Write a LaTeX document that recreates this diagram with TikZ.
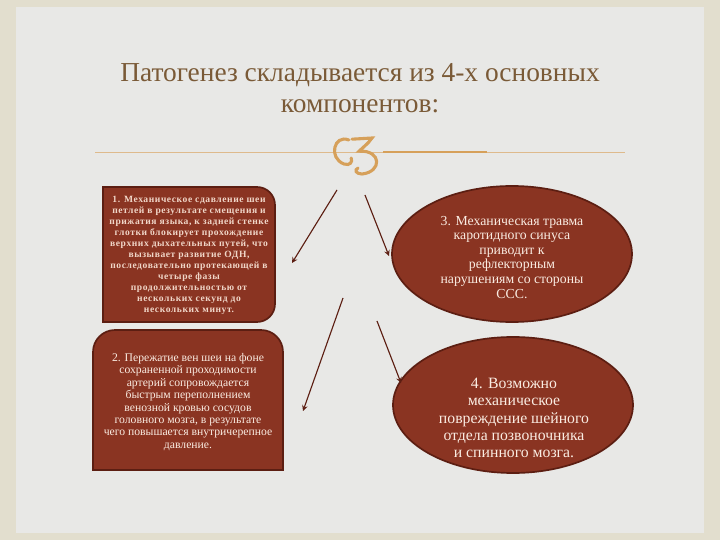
\documentclass[tikz,border=0pt]{standalone}
\usepackage{fontspec}
\setmainfont{Liberation Serif}
\usetikzlibrary{shapes.geometric}
\definecolor{frame}{RGB}{226,222,206}
\definecolor{paper}{RGB}{232,232,230}
\definecolor{titlebrown}{RGB}{122,90,55}
\definecolor{tan}{RGB}{222,186,140}
\definecolor{orn}{RGB}{214,160,90}
\definecolor{boxfill}{RGB}{138,52,34}
\definecolor{boxline}{RGB}{92,30,18}
\definecolor{boxtext}{RGB}{250,236,226}

\begin{document}
\begin{tikzpicture}[
    panel/.style={fill=boxfill, draw=boxline, line width=1.2pt},
    oval/.style={ellipse, panel, minimum width=6cm, minimum height=3.4cm, inner sep=0pt},
    ptext/.style={text=boxtext, align=center},
    link/.style={->, >=stealth, draw=boxline, line width=0.8pt}
  ]
    \useasboundingbox (0, 0) rectangle (18, 13.5);
    \fill[frame] (0, 0) rectangle (18, 13.5);
    \fill[paper] (0.4, 0.175) rectangle (17.6, 13.325);
    % title
    \node(title) at (9, 11.3) [text=titlebrown, align=center, font=\fontsize{19.5}{22.5}\selectfont]
      {Патогенез складывается из 4-х основных\\компонентов:};
    \draw[tan, line width=0.6pt] (2.375, 9.7)--(15.625, 9.7);
    \draw[orn, line width=1pt] (9.575, 9.7)--(12.175, 9.7);
    % ornament
    \draw[orn, line width=2.2pt, line cap=round] (8.72, 10.0) .. controls (8.35, 10.15) and (8.2, 9.55) .. (8.6, 9.4)
      .. controls (8.75, 9.35) and (8.82, 9.45) .. (8.78, 9.55);
    \draw[orn, line width=2.2pt, line cap=round] (8.8, 10.02) -- (9.3, 10.05)
      .. controls (9.2, 9.9) and (9.05, 9.8) .. (8.98, 9.72)
      .. controls (9.55, 9.75) and (9.55, 9.2) .. (9.05, 9.15)
      .. controls (8.9, 9.15) and (8.85, 9.25) .. (8.95, 9.3);
    % boxes on the left
    \draw[panel] (2.575, 5.45)--(2.575, 8.825)--(6.425, 8.825) arc[start angle=90, end angle=0, radius=0.45]
      --(6.875, 5.9) arc[start angle=0, end angle=-90, radius=0.45]--cycle;
    \draw[panel] (2.325, 1.75)--(2.325, 4.7) arc[start angle=180, end angle=90, radius=0.55]
      --(6.525, 5.25) arc[start angle=90, end angle=0, radius=0.55]--(7.075, 1.75)--cycle;
    \node(b1) at (4.725, 7.12) [ptext, text={rgb,255:red,240;green,214;blue,200},
      font=\fontsize{6.8}{7.8}\selectfont\bfseries\addfontfeatures{LetterSpace=6}]
      {1. Механическое сдавление шеи\\петлей в результате смещения и\\прижатия языка, к задней стенке\\глотки блокирует прохождение\\верхних дыхательных путей, что\\вызывает развитие ОДН,\\последовательно протекающей в\\четыре фазы\\продолжительностью от\\нескольких секунд до\\нескольких минут.};
    \node(b2) at (4.7, 3.45) [ptext, font=\fontsize{8.3}{8.8}\selectfont]
      {2. Пережатие вен шеи на фоне\\сохраненной проходимости\\артерий сопровождается\\быстрым переполнением\\венозной кровью сосудов\\головного мозга, в результате\\чего повышается внутричерепное\\давление.};
    % ovals on the right
    \node(e3) at (12.8, 7.15) [oval] {};
    \node(t3) at (12.8, 7.07) [ptext, font=\fontsize{9.8}{10.4}\selectfont]
      {3. Механическая травма\\каротидного синуса\\приводит к\\рефлекторным\\нарушениям со стороны\\ССС.};
    \node(e4) at (12.825, 3.375) [oval] {};
    \node(t4) at (12.85, 3.05) [ptext, font=\fontsize{11.2}{12.2}\selectfont]
      {4. Возможно\\механическое\\повреждение шейного\\отдела позвоночника\\и спинного мозга.};
    % arrows
    \coordinate(s1) at (8.425, 8.75);
    \coordinate(d1) at (7.3, 6.925);
    \coordinate(s2) at (9.125, 8.625);
    \coordinate(d2) at (9.725, 7.1);
    \coordinate(s3) at (8.575, 6.05);
    \coordinate(d3) at (7.575, 3.225);
    \coordinate(s4) at (9.425, 5.475);
    \coordinate(d4) at (10.025, 3.925);
    \draw[link] (s1)--(d1);
    \draw[link] (s2)--(d2);
    \draw[link] (s3)--(d3);
    \draw[link] (s4)--(d4);
  \end{tikzpicture}
\end{document}
